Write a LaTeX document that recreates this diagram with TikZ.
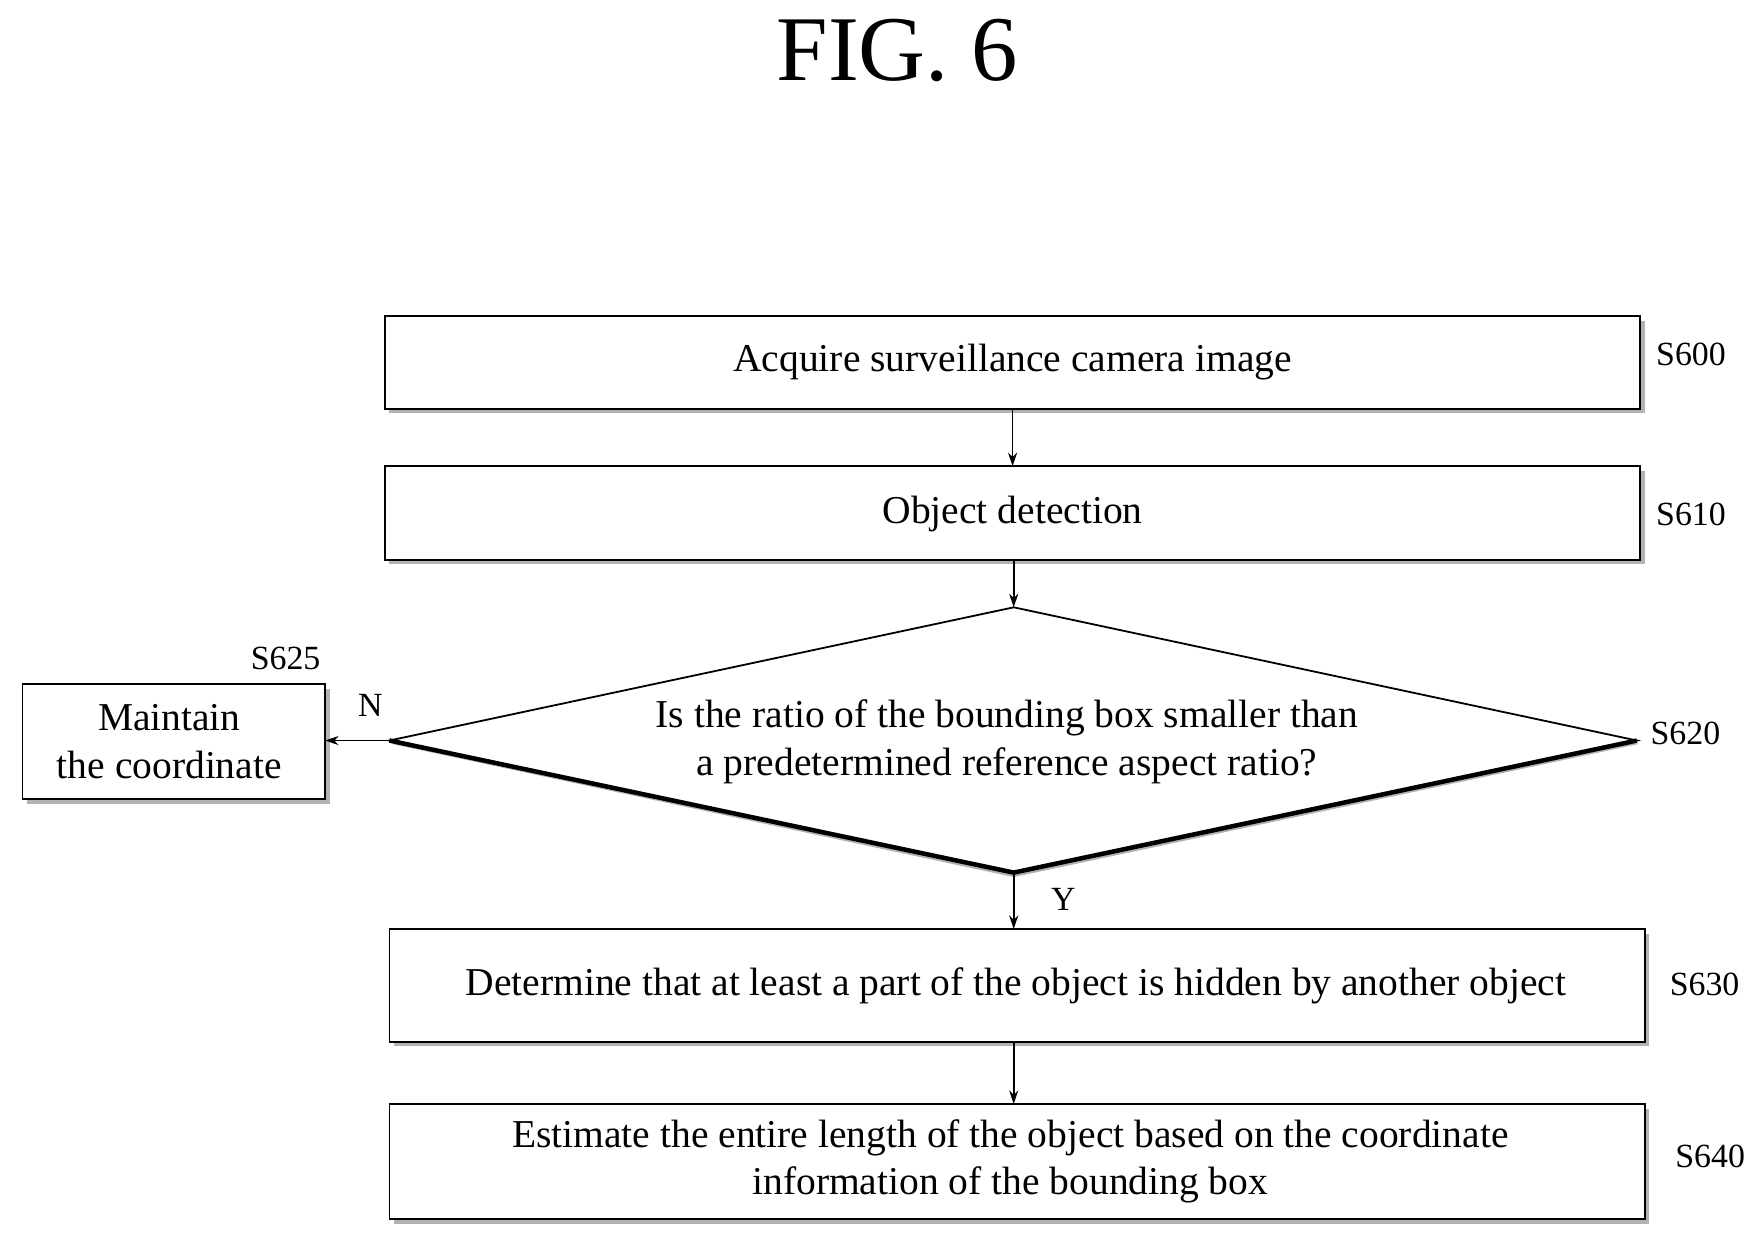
\documentclass[tikz,border=0pt]{standalone}
\usepackage{fontspec}
\setmainfont{Liberation Serif}
\usetikzlibrary{arrows.meta}
\begin{document}
\begin{tikzpicture}[x=0.5pt,y=-0.5pt,
  txt/.style={font=\fontsize{17.5}{21}\selectfont,align=center},
  lab/.style={font=\fontsize{15}{18}\selectfont},
  box/.style={draw,line width=0.8pt,fill=white},
  arr/.style={-{Stealth[length=6pt,width=4pt]},line width=0.8pt}]
\useasboundingbox (0,0) rectangle (1560,1097);
\node[font=\fontsize{41}{46}\selectfont] (title) at (795,45) {FIG. 6};
% shadows
\foreach \a/\b/\c/\d in {341/280/1453/362,341/413/1453/496,20/606/288/708,345/823/1457/923,345/978/1457/1080}
  \fill[gray!60] (\a+4,\b+4) rectangle (\c+4,\d+4);
\draw[box] (341,280) rectangle (1453,362);
\node[txt] (s600) at (897,321) {Acquire surveillance camera image};
\draw[box] (341,413) rectangle (1453,496);
\node[txt] (s610) at (897,455) {Object detection};
\draw[box] (20,606) rectangle (288,708);
\node[txt] (s625) at (150,657) {Maintain\\the coordinate};
\draw[box] (345,823) rectangle (1457,923);
\node[txt] (s630) at (900,873) {Determine that at least a part of the object is hidden by another object};
\draw[box] (345,978) rectangle (1457,1080);
\node[txt] (s640) at (895,1029) {Estimate the entire length of the object based on the coordinate\\information of the bounding box};
\fill[gray!60] (898,542)--(1452,659)--(898,777)--(347,659)--cycle;
\draw[line width=0.8pt,fill=white] (898,538) coordinate (dt)--(1450,656) coordinate (dr)--(898,773) coordinate (db)--(345,656) coordinate (dl)--cycle;
\draw[line width=2pt] (1450,656)--(898,773)--(345,656);
\node[txt] (s620) at (892,657) {Is the ratio of the bounding box smaller than\\a predetermined reference aspect ratio?};
\coordinate (a1) at (897,362); \coordinate (a2) at (897,413);
\draw[arr] (a1)--(a2);
\coordinate (b1) at (898,496);
\draw[arr] (b1)--(dt);
\coordinate (c1) at (288,656);
\draw[arr] (dl)--(c1);
\coordinate (d1) at (898,823);
\draw[arr] (db)--(d1);
\coordinate (e1) at (898,923); \coordinate (e2) at (898,978);
\draw[arr] (e1)--(e2);
\node[lab] (l600) at (1498,314) {S600};
\node[lab] (l610) at (1498,456) {S610};
\node[lab] (l620) at (1493,650) {S620};
\node[lab] (l625) at (253,583) {S625};
\node[lab] (l630) at (1510,872) {S630};
\node[lab] (l640) at (1515,1024) {S640};
\node[lab] (ln) at (328,625) {N};
\node[lab] (ly) at (942,797) {Y};
\end{tikzpicture}
\end{document}
